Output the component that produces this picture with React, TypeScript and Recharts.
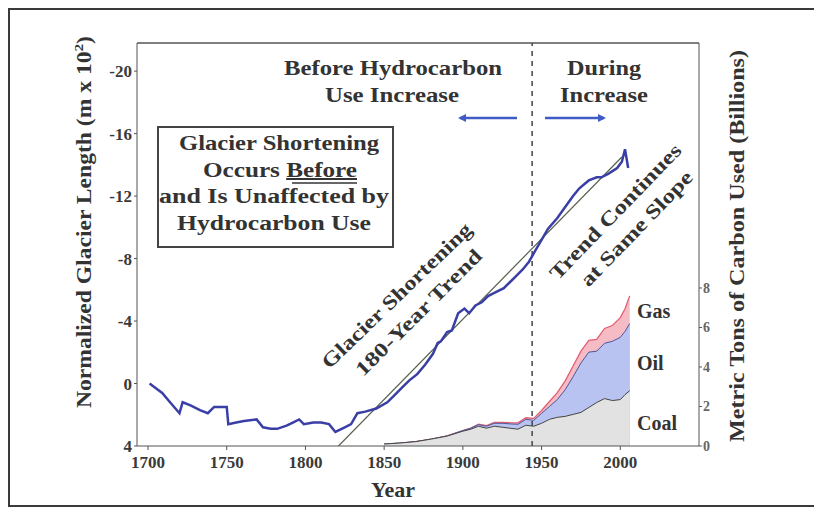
import React from 'react';
import { ComposedChart, Line, Area, XAxis, YAxis, ReferenceLine } from 'recharts';

// glacier length record (m x 10^2, negative = shorter)
const glacierYears = [1701, 1705, 1709, 1714, 1720, 1722, 1727, 1733, 1738, 1742, 1750, 1751, 1756, 1761, 1769, 1773, 1778, 1782, 1788, 1792, 1796, 1799, 1805, 1810, 1815, 1819, 1825, 1829, 1833, 1838, 1845, 1852, 1856, 1861, 1866, 1871, 1876, 1881, 1884, 1886, 1890, 1893, 1897, 1901, 1904, 1908, 1912, 1916, 1920, 1926, 1930, 1933, 1938, 1942, 1946, 1950, 1954, 1960, 1965, 1970, 1974, 1980, 1985, 1988, 1992, 1995, 1998, 2001, 2003, 2005];
const glacierLength = [0.0, 0.3, 0.6, 1.2, 1.9, 1.2, 1.4, 1.7, 1.9, 1.5, 1.5, 2.6, 2.5, 2.4, 2.3, 2.8, 2.9, 2.9, 2.7, 2.5, 2.3, 2.6, 2.5, 2.5, 2.6, 3.1, 2.8, 2.6, 1.9, 1.8, 1.6, 1.2, 0.8, 0.3, -0.2, -0.6, -1.2, -1.9, -2.6, -2.7, -3.3, -3.4, -4.5, -4.8, -4.5, -5.0, -5.2, -5.6, -5.8, -6.1, -6.5, -6.8, -7.3, -7.8, -8.5, -9.2, -9.9, -10.6, -11.3, -12.0, -12.5, -13.0, -13.2, -13.2, -13.4, -13.6, -13.8, -14.2, -15.0, -13.8];

// 180-year trend line
const trendYears = [1821, 2001];
const trendValues = [4, -14.5];

// carbon used (billions of metric tons)
const carbonYears = [1850, 1860, 1870, 1880, 1890, 1900, 1905, 1910, 1915, 1920, 1925, 1930, 1935, 1940, 1945, 1950, 1955, 1960, 1965, 1970, 1975, 1980, 1985, 1990, 1995, 2000, 2003, 2006];
const coal = [0.1, 0.15, 0.22, 0.35, 0.5, 0.75, 0.85, 1.0, 0.9, 1.0, 0.95, 0.9, 0.85, 1.05, 1.0, 1.15, 1.35, 1.45, 1.5, 1.6, 1.7, 1.95, 2.2, 2.4, 2.3, 2.35, 2.6, 2.8];
const oil = [0, 0, 0, 0, 0.01, 0.03, 0.05, 0.08, 0.1, 0.15, 0.2, 0.22, 0.25, 0.3, 0.3, 0.5, 0.65, 0.9, 1.35, 1.9, 2.5, 2.8, 2.6, 2.8, 3.0, 3.15, 3.2, 3.4];
const gas = [0, 0, 0, 0, 0, 0, 0.01, 0.02, 0.03, 0.04, 0.05, 0.06, 0.07, 0.08, 0.1, 0.15, 0.25, 0.35, 0.45, 0.55, 0.6, 0.6, 0.6, 0.75, 0.8, 1.0, 1.15, 1.4];

const yearTicks = [1700, 1750, 1800, 1850, 1900, 1950, 2000];
const lengthTicks = [-20, -16, -12, -8, -4, 0, 4];
const carbonTicks = [0, 2, 4, 6, 8];

const glacierData = glacierYears.map((year, i) => ({ year, length: glacierLength[i] }));
const trendData = trendYears.map((year, i) => ({ year, trend: trendValues[i] }));
const carbonData = carbonYears.map((year, i) => ({
  year,
  coal: coal[i],
  coalOil: coal[i] + oil[i],
  total: coal[i] + oil[i] + gas[i],
}));

const serif = '"Liberation Serif", "Times New Roman", serif';
const tickStyle = { fontSize: 17, fontWeight: 700, fill: '#3a3a3a', fontFamily: serif };

export default function App() {
  return (
    <div style={{ position: 'absolute', left: 0, top: 0, width: 814, height: 509, background: '#fff', overflow: 'hidden' }}>
      <div
        style={{
          position: 'absolute',
          left: 8,
          top: 8,
          width: 900,
          height: 495,
          borderTop: '2px solid #3a3a3a',
          borderLeft: '2px solid #3a3a3a',
          borderBottom: '2px solid #3a3a3a',
        }}
      />
      <ComposedChart
        width={814}
        height={509}
        margin={{ top: 43, right: 75, bottom: 33, left: 77 }}
        style={{ position: 'absolute', left: 0, top: 0 }}
      >
        <XAxis
          dataKey="year"
          type="number"
          domain={[1693, 2050]}
          allowDataOverflow
          ticks={yearTicks}
          height={30}
          tickSize={4}
          tickMargin={6}
          stroke="#555"
          tick={tickStyle}
        />
        <YAxis
          yAxisId="left"
          type="number"
          domain={[-21.8, 4]}
          reversed
          allowDataOverflow
          ticks={lengthTicks}
          width={60}
          tickSize={3}
          tickMargin={2}
          stroke="#555"
          tick={tickStyle}
        />
        <YAxis
          yAxisId="right"
          orientation="right"
          type="number"
          domain={[0, 20.4]}
          allowDataOverflow
          ticks={carbonTicks}
          width={40}
          tickSize={3}
          tickMargin={1}
          stroke="#555"
          tick={{ ...tickStyle, fontSize: 14, fill: '#666' }}
        />
        <ReferenceLine yAxisId="left" y={-21.8} stroke="#555" strokeWidth={1.5} />
        <Area
          yAxisId="right"
          data={carbonData}
          dataKey="total"
          type="linear"
          fill="#f5bcc6"
          fillOpacity={1}
          stroke="#e35f70"
          strokeWidth={1.3}
          isAnimationActive={false}
        />
        <Area
          yAxisId="right"
          data={carbonData}
          dataKey="coalOil"
          type="linear"
          fill="#b8c3f1"
          fillOpacity={1}
          stroke="#4d569a"
          strokeWidth={1}
          isAnimationActive={false}
        />
        <Area
          yAxisId="right"
          data={carbonData}
          dataKey="coal"
          type="linear"
          fill="#e2e2e2"
          fillOpacity={1}
          stroke="#444"
          strokeWidth={1}
          isAnimationActive={false}
        />
        <ReferenceLine yAxisId="left" x={1944} stroke="#444" strokeWidth={1.5} strokeDasharray="5 5" />
        <Line
          yAxisId="left"
          data={trendData}
          dataKey="trend"
          type="linear"
          stroke="#56604c"
          strokeWidth={1.2}
          dot={false}
          isAnimationActive={false}
        />
        <Line
          yAxisId="left"
          data={glacierData}
          dataKey="length"
          type="linear"
          stroke="#3a3fa6"
          strokeWidth={2.5}
          dot={false}
          isAnimationActive={false}
        />
      </ComposedChart>

      <svg width={814} height={509} style={{ position: 'absolute', left: 0, top: 0, pointerEvents: 'none' }}>
        <defs>
          <marker id="arrowhead" markerWidth="8" markerHeight="8" refX="6" refY="4" orient="auto" markerUnits="userSpaceOnUse">
            <path d="M0,0 L8,4 L0,8 z" fill="#3f5cc4" />
          </marker>
        </defs>
        <g fontFamily={serif} fontWeight={700} fill="#333">
          <text x={393} y={75} fontSize={21} textAnchor="middle" textLength={218} lengthAdjust="spacingAndGlyphs">Before Hydrocarbon</text>
          <text x={392} y={102} fontSize={21} textAnchor="middle" textLength={134} lengthAdjust="spacingAndGlyphs">Use Increase</text>
          <text x={604} y={75} fontSize={21} textAnchor="middle" textLength={74} lengthAdjust="spacingAndGlyphs">During</text>
          <text x={604} y={102} fontSize={21} textAnchor="middle" textLength={88} lengthAdjust="spacingAndGlyphs">Increase</text>

          <line x1={517} y1={118} x2={460} y2={118} stroke="#3f5cc4" strokeWidth={2.5} markerEnd="url(#arrowhead)" />
          <line x1={545} y1={118} x2={604} y2={118} stroke="#3f5cc4" strokeWidth={2.5} markerEnd="url(#arrowhead)" />

          <rect x={158} y={127} width={235} height={120} fill="#fff" stroke="#444" strokeWidth={2} />
          <text x={279} y={150} fontSize={20} textAnchor="middle" textLength={200} lengthAdjust="spacingAndGlyphs">Glacier Shortening</text>
          <text x={280} y={177} fontSize={20} textAnchor="middle" textLength={154} lengthAdjust="spacingAndGlyphs">
            Occurs <tspan textDecoration="underline">Before</tspan>
          </text>
          <line x1={292} y1={183} x2={357} y2={183} stroke="#333" strokeWidth={1.3} />
          <text x={274} y={203} fontSize={20} textAnchor="middle" textLength={230} lengthAdjust="spacingAndGlyphs">and Is Unaffected by</text>
          <text x={274} y={230} fontSize={20} textAnchor="middle" textLength={194} lengthAdjust="spacingAndGlyphs">Hydrocarbon Use</text>

          <text x={398} y={297} fontSize={20} textAnchor="middle" dominantBaseline="middle" transform="rotate(-44 398 297)" textLength={200} lengthAdjust="spacingAndGlyphs">Glacier Shortening</text>
          <text x={420} y={314} fontSize={20} textAnchor="middle" dominantBaseline="middle" transform="rotate(-45 420 314)" textLength={170} lengthAdjust="spacingAndGlyphs">180-Year Trend</text>
          <text x={617} y={213} fontSize={20} textAnchor="middle" dominantBaseline="middle" transform="rotate(-46 617 213)" textLength={180} lengthAdjust="spacingAndGlyphs">Trend Continues</text>
          <text x={638} y={230} fontSize={20} textAnchor="middle" dominantBaseline="middle" transform="rotate(-46 638 230)" textLength={152} lengthAdjust="spacingAndGlyphs">at Same Slope</text>

          <text x={637} y={318} fontSize={20}>Gas</text>
          <text x={637} y={370} fontSize={20}>Oil</text>
          <text x={637} y={430} fontSize={20}>Coal</text>

          <text x={393} y={497} fontSize={22} textAnchor="middle">Year</text>

          <text x={91} y={222} fontSize={20} textAnchor="middle" transform="rotate(-90 91 222)" textLength={372} lengthAdjust="spacingAndGlyphs">
            Normalized Glacier Length (m x 10<tspan fontSize={13} dy={-8}>2</tspan><tspan dy={8}>)</tspan>
          </text>
          <text x={744} y={246} fontSize={20} textAnchor="middle" transform="rotate(-90 744 246)" textLength={392} lengthAdjust="spacingAndGlyphs">
            Metric Tons of Carbon Used (Billions)
          </text>
        </g>
      </svg>
    </div>
  );
}
